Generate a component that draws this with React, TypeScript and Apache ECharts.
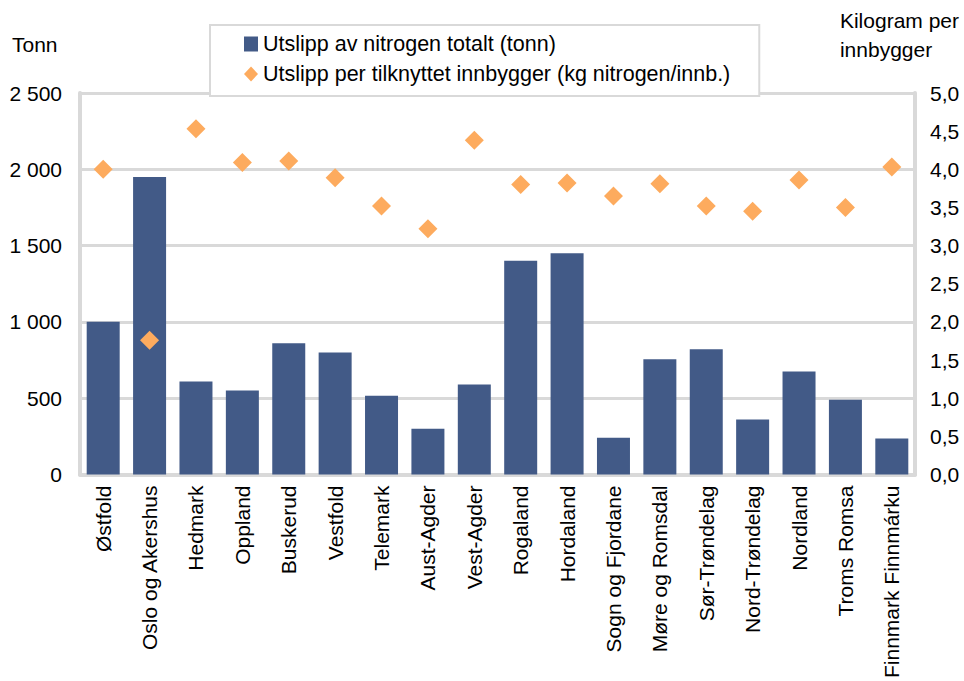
import React, { useEffect, useRef } from "react";
import * as echarts from "echarts";

const categories = [
  "Østfold", "Oslo og Akershus", "Hedmark", "Oppland", "Buskerud", "Vestfold",
  "Telemark", "Aust-Agder", "Vest-Agder", "Rogaland", "Hordaland", "Sogn og Fjordane",
  "Møre og Romsdal", "Sør-Trøndelag", "Nord-Trøndelag", "Nordland", "Troms Romsa",
  "Finnmark Finnmárku",
];
const totalTonn = [1000, 1950, 610, 550, 860, 800, 515, 300, 590, 1400, 1450, 240, 755, 820, 360, 675, 490, 235];
const perInnbygger = [4.0, 1.76, 4.53, 4.09, 4.11, 3.89, 3.52, 3.22, 4.38, 3.8, 3.82, 3.65, 3.81, 3.52, 3.45, 3.86, 3.5, 4.03];

const barName = "Utslipp av nitrogen totalt (tonn)";
const dotName = "Utslipp per tilknyttet innbygger (kg nitrogen/innb.)";
const FONT = "'Liberation Sans', Arial, sans-serif";
const GRID = "#d9d9d9";

export default function App() {
  const ref = useRef<HTMLDivElement>(null);
  useEffect(() => {
    if (!ref.current) return;
    const chart = echarts.init(ref.current, null, { renderer: "svg" });
    chart.setOption({
      animation: false,
      textStyle: { fontFamily: FONT },
      grid: { left: 80, right: 49, top: 93, bottom: 205, containLabel: false },
      legend: {
        orient: "vertical",
        left: 210,
        top: 25,
        padding: [8, 29, 11, 34],
        itemGap: 8,
        itemWidth: 14,
        itemHeight: 15,
        backgroundColor: "#fff",
        borderColor: GRID,
        borderWidth: 2,
        textStyle: { fontSize: 21.5, color: "#000", fontFamily: FONT, lineHeight: 22 },
        data: [
          { name: barName, icon: "rect" },
          { name: dotName, icon: "diamond" },
        ],
      },
      graphic: [
        { type: "text", left: 12, top: 34, style: { text: "Tonn", fill: "#000", font: `21px ${FONT}` } },
        {
          type: "text", right: 5, top: 6,
          style: { text: "Kilogram per\ninnbygger", align: "right", lineHeight: 29, fill: "#000", font: `21px ${FONT}` },
        },
      ],
      xAxis: {
        type: "category",
        data: categories,
        boundaryGap: true,
        axisLine: { show: true, lineStyle: { color: GRID, width: 4 } },
        axisTick: { show: false },
        axisLabel: { rotate: 90, margin: 11, fontSize: 21, color: "#000", fontFamily: FONT, interval: 0 },
      },
      yAxis: [
        {
          type: "value",
          min: 0, max: 2500, interval: 500,
          axisLine: { show: true, lineStyle: { color: GRID, width: 4 } },
          axisTick: { show: false },
          splitLine: { show: true, lineStyle: { color: GRID, width: 3 } },
          axisLabel: {
            fontSize: 21, color: "#000", margin: 18, fontFamily: FONT,
            formatter: (v: number) => String(v).replace(/\B(?=(\d{3})+(?!\d))/g, " "),
          },
        },
        {
          type: "value",
          min: 0, max: 5, interval: 0.5,
          position: "right",
          axisLine: { show: true, lineStyle: { color: GRID, width: 4 } },
          axisTick: { show: false },
          splitLine: { show: false },
          axisLabel: {
            fontSize: 21, color: "#000", margin: 15, fontFamily: FONT,
            formatter: (v: number) => v.toFixed(1).replace(".", ","),
          },
        },
      ],
      series: [
        {
          name: barName,
          type: "bar",
          data: totalTonn,
          barWidth: 33,
          itemStyle: { color: "#425a87" },
          yAxisIndex: 0,
        },
        {
          name: dotName,
          type: "scatter",
          data: perInnbygger,
          yAxisIndex: 1,
          symbol: "diamond",
          symbolSize: 19,
          itemStyle: { color: "#fdab5e", opacity: 1 },
          z: 5,
        },
      ],
    });
    return () => chart.dispose();
  }, []);
  return <div ref={ref} style={{ width: 964, height: 681, position: "absolute", left: 0, top: 0 }} />;
}
